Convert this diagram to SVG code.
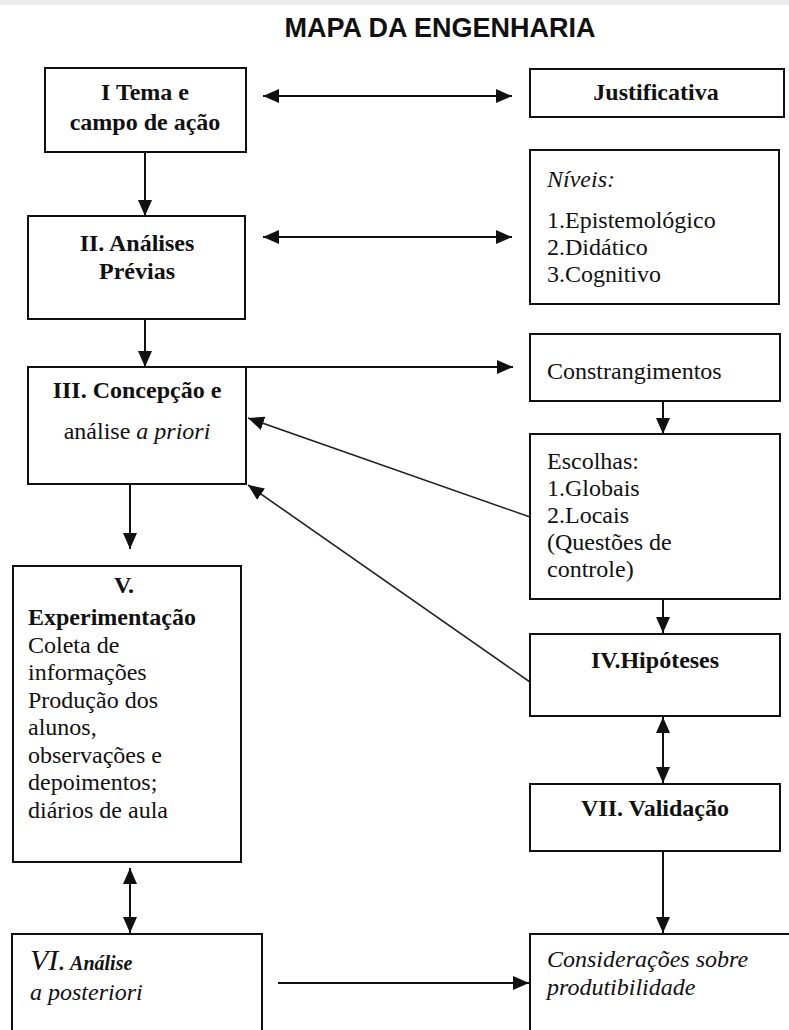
<svg xmlns="http://www.w3.org/2000/svg" width="789" height="1030" viewBox="0 0 789 1030">
<style>
.box{fill:#fff;stroke:#111;stroke-width:2}
.t{font-family:"Liberation Serif","Times New Roman",serif;font-size:24px;fill:#111}
.b{font-weight:bold}
.i{font-style:italic}
.c{text-anchor:middle}
.ln{stroke:#111;stroke-width:2;fill:none}
.dg{stroke:#222;stroke-width:1.6;fill:none}
</style>
<defs>
<marker id="ah" markerUnits="userSpaceOnUse" markerWidth="17" markerHeight="14" refX="16" refY="7" orient="auto-start-reverse">
<path d="M0,0 L16,7 L0,14 z" fill="#111"/>
</marker>
</defs>
<rect x="0" y="0" width="789" height="5" fill="#ececec"/>
<text x="440" y="37" text-anchor="middle" font-family="'Liberation Sans',Arial,sans-serif" font-weight="bold" font-size="27" fill="#111">MAPA DA ENGENHARIA</text>

<g id="connectors">
<path class="ln" d="M263,96 H512" marker-start="url(#ah)" marker-end="url(#ah)"/>
<path class="ln" d="M263,237 H512" marker-start="url(#ah)" marker-end="url(#ah)"/>
<path class="ln" d="M145,152 V216" marker-end="url(#ah)"/>
<path class="ln" d="M145,320 V367" marker-end="url(#ah)"/>
<path class="ln" d="M246,367 H513" marker-end="url(#ah)"/>
<path class="ln" d="M663,401 V434" marker-end="url(#ah)"/>
<path class="ln" d="M663,599 V633" marker-end="url(#ah)"/>
<path class="ln" d="M663,717 V783" marker-start="url(#ah)" marker-end="url(#ah)"/>
<path class="ln" d="M663,851 V933" marker-end="url(#ah)"/>
<path class="dg" d="M530,517 L248,418" marker-end="url(#ah)"/>
<path class="dg" d="M530,682 L248,485" marker-end="url(#ah)"/>
<path class="ln" d="M130,484 V549" marker-end="url(#ah)"/>
<path class="ln" d="M130,868 V933" marker-start="url(#ah)" marker-end="url(#ah)"/>
<path class="ln" d="M278,983 H529" marker-end="url(#ah)"/>
</g>

<g id="tema">
<rect class="box" x="45" y="68" width="201" height="84"/>
<text class="t b c" x="145" y="100">I Tema e</text>
<text class="t b c" x="145" y="130">campo de ação</text>
</g>
<g id="justificativa">
<rect class="box" x="530" y="69" width="254" height="48"/>
<text class="t b c" x="656" y="100" font-size="20">Justificativa</text>
</g>
<g id="analises">
<rect class="box" x="28" y="216" width="217" height="103"/>
<text class="t b c" x="137" y="251">II. Análises</text>
<text class="t b c" x="137" y="279">Prévias</text>
</g>
<g id="niveis">
<rect class="box" x="530" y="150" width="249" height="154"/>
<text class="t i" x="547" y="187" font-size="28">Níveis:</text>
<text class="t" x="547" y="228">1.Epistemológico</text>
<text class="t" x="547" y="255">2.Didático</text>
<text class="t" x="547" y="282">3.Cognitivo</text>
</g>
<g id="concepcao">
<rect class="box" x="28" y="367" width="218" height="117"/>
<text class="t b c" x="137" y="398">III. Concepção e</text>
<text class="t c" x="137" y="439">análise <tspan class="i">a priori</tspan></text>
</g>
<g id="constrangimentos">
<rect class="box" x="530" y="334" width="250" height="67"/>
<text class="t" x="547" y="379">Constrangimentos</text>
</g>
<g id="escolhas">
<rect class="box" x="530" y="434" width="250" height="165"/>
<text class="t" x="547" y="469">Escolhas:</text>
<text class="t" x="547" y="496">1.Globais</text>
<text class="t" x="547" y="523">2.Locais</text>
<text class="t" x="547" y="550">(Questões de</text>
<text class="t" x="547" y="577">controle)</text>
</g>
<g id="hipoteses">
<rect class="box" x="530" y="634" width="250" height="82"/>
<text class="t b c" x="655" y="668">IV.Hipóteses</text>
</g>
<g id="validacao">
<rect class="box" x="530" y="784" width="250" height="67"/>
<text class="t b c" x="655" y="816">VII. Validação</text>
</g>
<g id="experimentacao">
<rect class="box" x="13" y="566" width="228" height="296"/>
<text class="t b c" x="124" y="593">V.</text>
<text class="t b" x="28" y="625">Experimentação</text>
<text class="t" x="28" y="652.5">Coleta de</text>
<text class="t" x="28" y="680">informações</text>
<text class="t" x="28" y="707.5">Produção dos</text>
<text class="t" x="28" y="735">alunos,</text>
<text class="t" x="28" y="762.5">observações e</text>
<text class="t" x="28" y="790">depoimentos;</text>
<text class="t" x="28" y="817.5">diários de aula</text>
</g>
<g id="posteriori">
<rect class="box" x="12" y="934" width="250" height="110"/>
<text class="t i" x="30" y="970"><tspan font-size="30">VI.</tspan><tspan class="b" font-size="20"> Análise</tspan></text>
<text class="t i" x="30" y="1000" font-size="27">a posteriori</text>
</g>
<g id="consideracoes">
<rect class="box" x="530" y="934" width="270" height="110"/>
<text class="t i" x="547" y="967" font-size="25">Considerações sobre</text>
<text class="t i" x="547" y="995" font-size="25">produtibilidade</text>
</g>
</svg>
